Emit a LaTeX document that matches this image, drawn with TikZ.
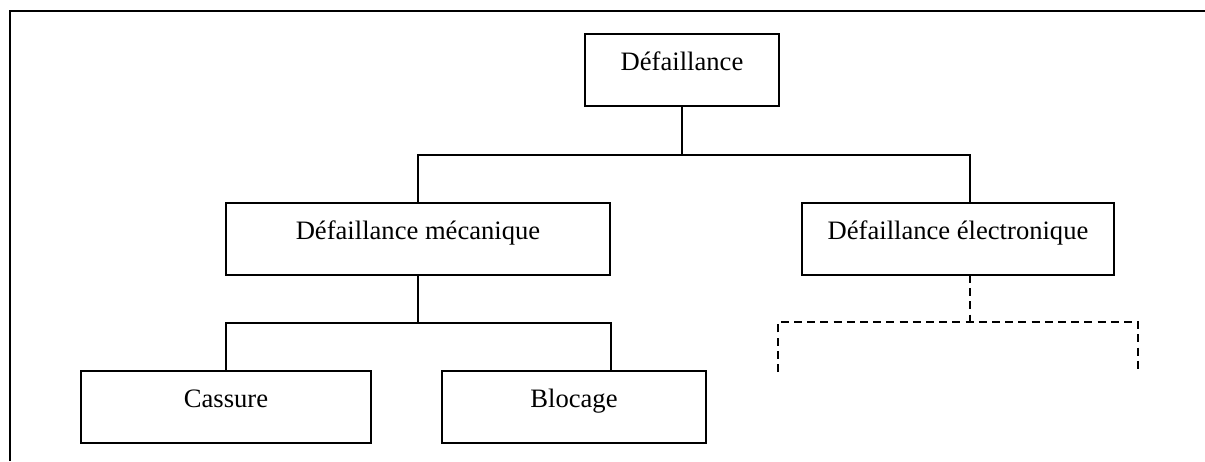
\documentclass[tikz,border=0pt]{standalone}
\usepackage{fontspec}
\setmainfont{Liberation Serif}
\begin{document}
\begin{tikzpicture}[x=0.5pt,y=-0.5pt,
  box/.style={draw,line width=1.1pt,inner sep=0pt,minimum height=36pt,
    text height=18pt,text depth=18pt,font=\fontsize{13.3}{16}\selectfont},
  link/.style={line width=1.1pt},
  future/.style={line width=1.1pt,dash pattern=on 4pt off 2.6pt}]
\useasboundingbox (0,0) rectangle (1205,461);
% open frame
\draw[line width=1.4pt] (10,461) -- (10,11) -- (1205,11);
% boxes
\node[box,minimum width=97pt]  (top)  at (682,70)  {Défaillance};
\node[box,minimum width=192pt] (mec)  at (418,239) {Défaillance mécanique};
\node[box,minimum width=156pt] (elec) at (958,239) {Défaillance électronique};
\node[box,minimum width=145pt] (cas)  at (226,407) {Cassure};
\node[box,minimum width=132pt] (blo)  at (574,407) {Blocage};
% first level connectors
\coordinate (j1) at (682,155);
\coordinate (eTop) at (970,203);
\draw[link] (top.south) -- (j1);
\draw[link] (mec.north) |- (j1) -| (eTop);
% second level connectors
\coordinate (j2) at (418,323);
\coordinate (bTop) at (611,371);
\draw[link] (mec.south) -- (j2);
\draw[link] (cas.north) |- (j2) -| (bTop);
% branches still to be detailed
\coordinate (eBot) at (970,275);
\coordinate (j3) at (970,322);
\coordinate (dL) at (778,372);
\coordinate (dR) at (1138,372);
\draw[future] (eBot) -- (j3);
\draw[future] (dL) |- (j3) -| (dR);
\end{tikzpicture}
\end{document}
